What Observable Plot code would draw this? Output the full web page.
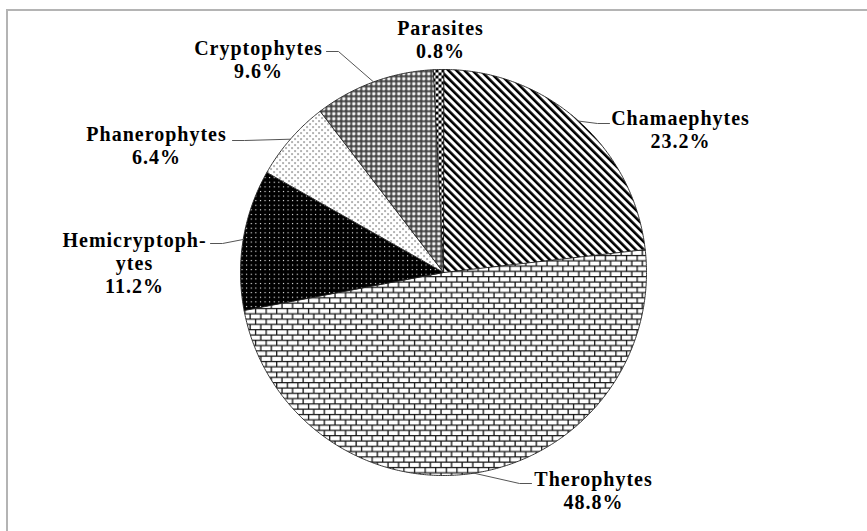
<!DOCTYPE html>
<html><head><meta charset="utf-8">
<script src="https://cdn.jsdelivr.net/npm/d3@7"></script>
<script src="https://cdn.jsdelivr.net/npm/@observablehq/plot@0.6"></script>
<style>
html,body{margin:0;padding:0;background:#fff;}
#wrap{position:relative;width:867px;height:531px;overflow:hidden;}
#frame{position:absolute;left:6px;top:9px;width:900px;height:600px;border-top:2px solid #b4b4b4;border-left:2px solid #b4b4b4;pointer-events:none;}
.pie text{letter-spacing:1px;}
</style></head><body><div id="wrap"><div id="chart"></div><div id="frame"></div></div>
<script>
// ---- data ----
const categories = ["Chamaephytes","Therophytes","Hemicryptophytes","Phanerophytes","Cryptophytes","Parasites"];
const labelNames = ["Chamaephytes","Therophytes","Hemicryptoph-\nytes","Phanerophytes","Cryptophytes","Parasites"];
const shares = [23.2, 48.8, 11.2, 6.4, 9.6, 0.8];

// ---- layout (pixels, offsets from pie centre, y up) ----
const W = 867, H = 531, CX = 443, CY = 272, R = 203;
const labelPos = [[237,143],[150,-218],[-309,10],[-287,127],[-185,213],[-3,233]];
const leaderEnd = [[166,149],[88,-211],[-233,29],[-211,132],[-117,221],null];
const ELBOW = 12;

const arcs = d3.pie().sort(null).value(d => d)(shares);
const slices = arcs.map((a, i) => {
  const pts = [{x: 0, y: 0}];
  const n = Math.max(2, Math.ceil((a.endAngle - a.startAngle) / (Math.PI / 360)));
  for (let k = 0; k <= n; k++) {
    const t = a.startAngle + (a.endAngle - a.startAngle) * k / n;
    pts.push({x: R * Math.sin(t), y: R * Math.cos(t)});
  }
  return pts;
});
const labels = categories.map((c, i) => ({
  x: labelPos[i][0], y: labelPos[i][1],
  text: labelNames[i] + "\n" + shares[i].toFixed(1) + "%"
}));
const leaders = [];
arcs.forEach((a, i) => {
  if (!leaderEnd[i]) return;
  const m = (a.startAngle + a.endAngle) / 2;
  const [ex, ey] = leaderEnd[i];
  const side = ex > 0 ? -1 : 1;
  leaders.push([
    {x: R * Math.sin(m), y: R * Math.cos(m)},
    {x: ex + side * ELBOW, y: ey},
    {x: ex, y: ey}
  ]);
});

const marks = [];
slices.forEach((pts, i) => marks.push(Plot.line(pts, {
  x: "x", y: "y", curve: "linear-closed", fill: `url(#pat${i})`, stroke: "#222", strokeWidth: 0.9
})));
leaders.forEach(pts => marks.push(Plot.line(pts, {x: "x", y: "y", stroke: "#555", strokeWidth: 1})));
marks.push(Plot.text(labels, {
  x: "x", y: "y", text: "text", textAnchor: "middle", lineAnchor: "middle",
  fontSize: 20, fontWeight: "bold", fontFamily: "Liberation Serif", lineHeight: 1.15, fill: "#000"
}));

const svg = Plot.plot({
  width: W, height: H, margin: 0, className: "pie",
  x: {domain: [-CX, W - CX], axis: null},
  y: {domain: [CY - H, CY], axis: null},
  marks
});
svg.insertAdjacentHTML("afterbegin", `<defs>
<pattern id="pat0" patternUnits="userSpaceOnUse" width="5.66" height="5.66" patternTransform="rotate(-45)">
<rect width="5.66" height="5.66" fill="#fff"/><rect width="2.6" height="5.66" fill="#000"/></pattern>
<pattern id="pat1" patternUnits="userSpaceOnUse" width="10.6" height="10.6">
<rect width="10.6" height="10.6" fill="#fff"/>
<path d="M0 0.6H10.6M0 5.9H10.6M0.6 0V5.3M5.9 5.3V10.6" stroke="#111" stroke-width="1.3" fill="none"/></pattern>
<pattern id="pat2" patternUnits="userSpaceOnUse" width="4.6" height="4.6">
<rect width="4.6" height="4.6" fill="#000"/><rect x="1.8" y="1.8" width="1.1" height="1.1" fill="#fff"/></pattern>
<pattern id="pat3" patternUnits="userSpaceOnUse" width="6" height="6">
<rect width="6" height="6" fill="#fff"/><rect width="1.1" height="1.1" fill="#000"/><rect x="3" y="3" width="1.1" height="1.1" fill="#000"/></pattern>
<pattern id="pat4" patternUnits="userSpaceOnUse" width="5" height="5">
<rect width="5" height="5" fill="#fff"/><rect width="5" height="1.6" fill="#3a3a3a"/><rect width="1.6" height="5" fill="#3a3a3a"/>
<rect x="1.6" y="1.6" width="0.9" height="0.9" fill="#666"/><rect x="4.1" y="1.6" width="0.9" height="0.9" fill="#666"/>
<rect x="1.6" y="4.1" width="0.9" height="0.9" fill="#666"/><rect x="4.1" y="4.1" width="0.9" height="0.9" fill="#666"/></pattern>
<pattern id="pat5" patternUnits="userSpaceOnUse" width="6" height="6">
<rect width="6" height="6" fill="#fff"/><rect width="3" height="3" fill="#000"/><rect x="3" y="3" width="3" height="3" fill="#000"/></pattern>
</defs>`);
document.getElementById("chart").appendChild(svg);
</script></body></html>
